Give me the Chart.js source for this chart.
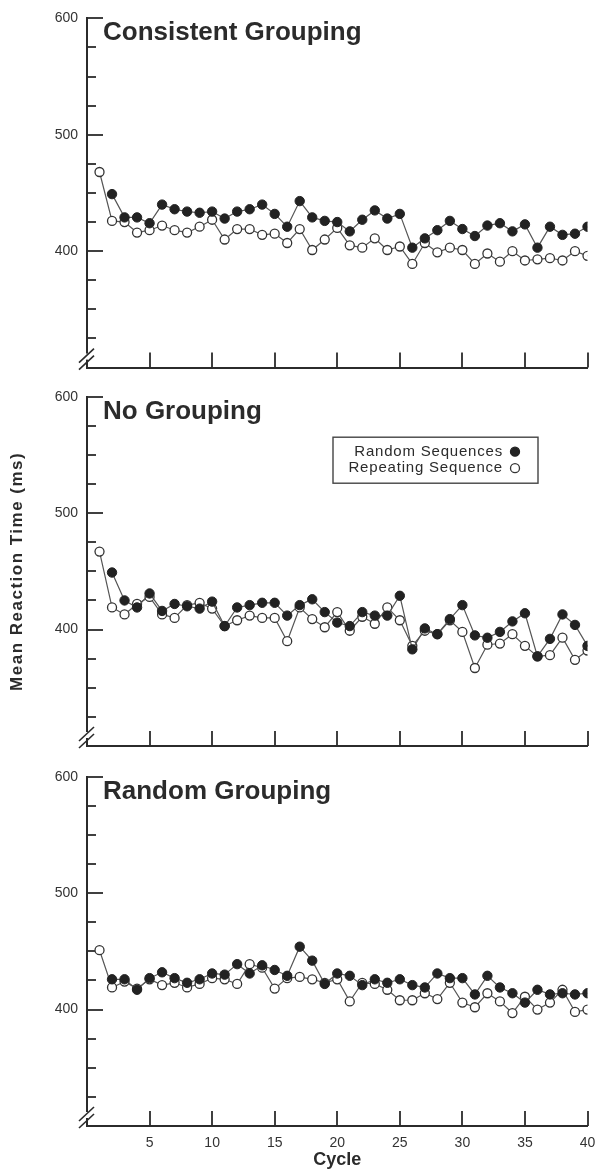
<!DOCTYPE html>
<html>
<head>
<meta charset="utf-8">
<script src="https://cdn.jsdelivr.net/npm/chart.js@4"></script>
<style>
  body { margin: 0; background: #fff; }
  .panel { position: absolute; left: 0; width: 599px; }
</style>
</head>
<body>
<div class="panel" style="top:0px"><canvas id="c1" width="599" height="390"></canvas></div>
<div class="panel" style="top:379px"><canvas id="c2" width="599" height="390"></canvas></div>
<div class="panel" style="top:759px"><canvas id="c3" width="599" height="412"></canvas></div>
<script>
// cycles 1..40
const cycles = [1, 2, 3, 4, 5, 6, 7, 8, 9, 10, 11, 12, 13, 14, 15, 16, 17, 18, 19, 20,
                21, 22, 23, 24, 25, 26, 27, 28, 29, 30, 31, 32, 33, 34, 35, 36, 37, 38, 39, 40];

// Consistent Grouping
const consistentRandom = [null, 449, 429, 429, 424, 440, 436, 434, 433, 434, 428, 434, 436, 440, 432, 421, 443, 429, 426, 425,
                          417, 427, 435, 428, 432, 403, 411, 418, 426, 419, 413, 422, 424, 417, 423, 403, 421, 414, 415, 421];
const consistentRepeat = [468, 426, 425, 416, 418, 422, 418, 416, 421, 427, 410, 419, 419, 414, 415, 407, 419, 401, 410, 420,
                          405, 403, 411, 401, 404, 389, 407, 399, 403, 401, 389, 398, 391, 400, 392, 393, 394, 392, 400, 396];

// No Grouping
const noGroupRandom = [null, 449, 425, 419, 431, 416, 422, 420, 418, 424, 403, 419, 421, 423, 423, 412, 421, 426, 415, 406,
                       403, 415, 412, 412, 429, 383, 401, 396, 409, 421, 395, 393, 398, 407, 414, 377, 392, 413, 404, 386];
const noGroupRepeat = [467, 419, 413, 422, 428, 413, 410, 421, 423, 418, 403, 408, 412, 410, 410, 390, 419, 409, 402, 415,
                       399, 411, 405, 419, 408, 386, 399, 396, 408, 398, 367, 387, 388, 396, 386, 377, 378, 393, 374, 382];

// Random Grouping
const randomRandom = [null, 426, 426, 417, 427, 432, 427, 423, 426, 431, 430, 439, 431, 438, 434, 429, 454, 442, 422, 431,
                      429, 421, 426, 423, 426, 421, 419, 431, 427, 427, 413, 429, 419, 414, 406, 417, 413, 414, 413, 414];
const randomRepeat = [451, 419, 424, 418, 426, 421, 423, 419, 422, 427, 426, 422, 439, 436, 418, 427, 428, 426, 423, 426,
                      407, 423, 422, 417, 408, 408, 414, 409, 423, 406, 402, 414, 407, 397, 411, 400, 406, 417, 398, 400];

const yLabels = [400, 500, 600];
const xLabels = [5, 10, 15, 20, 25, 30, 35, 40];
const seriesNames = ['Random Sequences', 'Repeating Sequence'];
const yTitle = 'Mean Reaction Time (ms)';

const FONT = '"Liberation Sans", Arial, Helvetica, sans-serif';
const INK = '#2b2b2b';

const deco = {
  id: 'deco',
  beforeDatasetsDraw(chart, args, opts) {
    const ctx = chart.ctx, a = chart.chartArea;
    const ys = chart.scales.y, xs = chart.scales.x;
    ctx.save();
    ctx.strokeStyle = INK;
    ctx.lineWidth = 1.8;
    ys.ticks.forEach(t => {
      if (t.value <= 300) return;
      const len = t.value % 100 === 0 ? 16 : 9;
      const py = Math.round(ys.getPixelForValue(t.value));
      ctx.beginPath(); ctx.moveTo(a.left, py); ctx.lineTo(a.left + len, py); ctx.stroke();
    });
    xs.ticks.forEach(t => {
      if (t.value <= 0) return;
      const px = Math.round(xs.getPixelForValue(t.value));
      ctx.beginPath(); ctx.moveTo(px, a.bottom); ctx.lineTo(px, a.bottom - 15); ctx.stroke();
    });
    ctx.restore();
  },
  afterDraw(chart, args, opts) {
    const ctx = chart.ctx, a = chart.chartArea;
    ctx.save();
    // axis break
    const bx = a.left, by = a.bottom;
    ctx.fillStyle = '#fff';
    ctx.fillRect(bx - 3, by - 14, 6, 6);
    ctx.strokeStyle = INK;
    ctx.lineWidth = 1.6;
    [by - 5, by - 12].forEach(cy => {
      ctx.beginPath(); ctx.moveTo(bx - 8, cy + 7); ctx.lineTo(bx + 7, cy - 7); ctx.stroke();
    });
    // panel title
    ctx.fillStyle = INK;
    ctx.font = 'bold 26px ' + FONT;
    ctx.textBaseline = 'alphabetic';
    ctx.fillText(opts.title, a.left + 16, a.top + 22);
    // shared y axis title
    if (opts.ytitle) {
      ctx.save();
      ctx.translate(17, (a.top + a.bottom) / 2);
      ctx.rotate(-Math.PI / 2);
      ctx.font = 'bold 17px ' + FONT;
      ctx.letterSpacing = '1.5px';
      ctx.textAlign = 'center';
      ctx.textBaseline = 'middle';
      ctx.fillText(yTitle, 0, 0);
      ctx.restore();
    }
    // legend
    if (opts.legend) {
      const lx = 333, ly = a.top + 40.5, lw = 205, lh = 46;
      ctx.lineWidth = 1.4;
      ctx.strokeStyle = '#444';
      ctx.strokeRect(lx, ly, lw, lh);
      ctx.font = '15px ' + FONT;
      ctx.letterSpacing = '0.8px';
      ctx.textAlign = 'right';
      ctx.textBaseline = 'middle';
      chart.data.datasets.forEach((ds, i) => {
        const cy = ly + 14.5 + i * 16.5;
        ctx.fillStyle = INK;
        ctx.fillText(ds.label, lx + 170, cy);
        ctx.beginPath();
        ctx.arc(lx + 182, cy, 4.5, 0, Math.PI * 2);
        ctx.fillStyle = ds.pointBackgroundColor;
        ctx.fill();
        ctx.lineWidth = 1.3;
        ctx.strokeStyle = ds.pointBorderColor;
        ctx.stroke();
      });
    }
    ctx.restore();
  }
};

function makePanel(id, title, filled, open, opt) {
  const toXY = arr => cycles.map((c, i) => ({ x: c, y: arr[i] }));
  return new Chart(document.getElementById(id), {
    type: 'line',
    data: {
      datasets: [
        {
          label: seriesNames[0],
          data: toXY(filled),
          borderColor: '#555',
          borderWidth: 1.2,
          pointRadius: 4.7,
          pointBackgroundColor: '#222',
          pointBorderColor: '#222',
          pointBorderWidth: 1,
          tension: 0,
        },
        {
          label: seriesNames[1],
          data: toXY(open),
          borderColor: '#555',
          borderWidth: 1.2,
          pointRadius: 4.5,
          pointBackgroundColor: '#fff',
          pointBorderColor: '#333',
          pointBorderWidth: 1.3,
          tension: 0,
        },
      ],
    },
    options: {
      responsive: false,
      animation: false,
      devicePixelRatio: 1,
      layout: { padding: { top: opt.top, right: 11.5, left: 0, bottom: 0 } },
      plugins: {
        legend: { display: false },
        tooltip: { enabled: false },
        deco: { title: title, legend: opt.legend, ytitle: opt.ytitle },
      },
      scales: {
        x: {
          type: 'linear',
          min: 0,
          max: 40,
          afterFit: s => { s.height = opt.xh; s.paddingRight = 0; s.paddingLeft = 0; },
          grid: { display: false, drawTicks: false },
          border: { display: true, color: INK, width: 2 },
          ticks: {
            display: opt.xlabels,
            stepSize: 5,
            padding: 9,
            color: '#333',
            font: { family: FONT, size: 14 },
            maxRotation: 0,
            callback: v => xLabels.includes(v) ? String(v) : '',
          },
          title: {
            display: opt.xlabels,
            text: 'Cycle',
            color: INK,
            padding: { top: 0, bottom: 0 },
            font: { family: FONT, size: 18, weight: 'bold' },
          },
        },
        y: {
          min: 300,
          max: 600,
          afterFit: s => { s.width = 87; s.paddingTop = 0; s.paddingBottom = 0; },
          grid: { display: false, drawTicks: false },
          border: { display: true, color: INK, width: 2 },
          ticks: {
            stepSize: 25,
            padding: 9,
            color: '#333',
            font: { family: FONT, size: 14 },
            callback: v => yLabels.includes(v) ? String(v) : '',
          },
        },
      },
    },
    plugins: [deco],
  });
}

makePanel('c1', 'Consistent Grouping', consistentRandom, consistentRepeat,
  { top: 18.3, xh: 22.4, xlabels: false, ytitle: false, legend: false });
makePanel('c2', 'No Grouping', noGroupRandom, noGroupRepeat,
  { top: 17.7, xh: 23, xlabels: false, ytitle: true, legend: true });
makePanel('c3', 'Random Grouping', randomRandom, randomRepeat,
  { top: 17.7, xh: 45, xlabels: true, ytitle: false, legend: false });
</script>
</body>
</html>
